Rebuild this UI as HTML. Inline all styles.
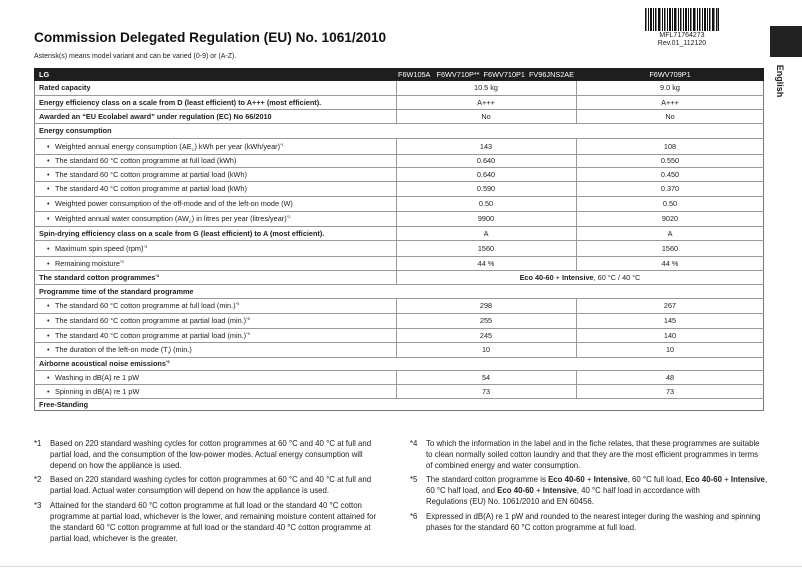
<!DOCTYPE html>
<html><head><meta charset="utf-8">
<style>
body{margin:0;width:802px;height:573px;background:#fff;position:relative;overflow:hidden;font-family:"Liberation Sans",sans-serif;color:#222}
.a{position:absolute;white-space:nowrap}
.r{position:absolute;left:34px;width:730px;border-bottom:1px solid #999;font-size:7.3px}
.r .l{position:absolute;left:5px;top:0}
.r .b{position:absolute;left:21px}
.r .b:before{content:"•";position:absolute;left:-8px}
.r .c1{position:absolute;left:362px;width:180px;text-align:center}
.r .c2{position:absolute;left:542px;width:188px;text-align:center}
.bold{font-weight:bold}
.fn{position:absolute;font-size:7.85px;line-height:11px;white-space:nowrap}
.fn span.n{position:absolute;left:-16px}
sup{font-size:4px;line-height:0;vertical-align:0;position:relative;top:-3px}
sub{font-size:4px;line-height:0;vertical-align:0;position:relative;top:2px}
.v{position:absolute;width:1px;background:#999}
</style></head><body>
<div class="a" style="left:34px;top:30px;font-size:13.7px;font-weight:bold;color:#111">Commission Delegated Regulation (EU) No. 1061/2010</div>
<div class="a" style="left:34px;top:53px;font-size:7px">Asterisk(s) means model variant and can be varied (0-9) or (A-Z).</div>
<svg class="a" style="left:645px;top:8px" width="74" height="23">
<g fill="#111">
<rect x="0" y="0" width="1.5" height="23"/><rect x="3" y="0" width="1" height="23"/><rect x="5" y="0" width="2" height="23"/><rect x="8" y="0" width="1" height="23"/><rect x="10" y="0" width="1.5" height="23"/><rect x="13" y="0" width="2.5" height="23"/><rect x="17" y="0" width="1" height="23"/><rect x="19" y="0" width="1.5" height="23"/><rect x="22" y="0" width="1" height="23"/><rect x="24" y="0" width="2" height="23"/><rect x="27" y="0" width="1" height="23"/><rect x="29" y="0" width="2.5" height="23"/><rect x="33" y="0" width="1" height="23"/><rect x="35" y="0" width="1.5" height="23"/><rect x="38" y="0" width="1" height="23"/><rect x="40" y="0" width="2" height="23"/><rect x="43" y="0" width="1" height="23"/><rect x="45" y="0" width="1.5" height="23"/><rect x="48" y="0" width="2.5" height="23"/><rect x="52" y="0" width="1" height="23"/><rect x="54" y="0" width="1.5" height="23"/><rect x="57" y="0" width="1" height="23"/><rect x="59" y="0" width="2" height="23"/><rect x="62" y="0" width="1" height="23"/><rect x="64" y="0" width="1.5" height="23"/><rect x="67" y="0" width="2.5" height="23"/><rect x="71" y="0" width="1" height="23"/><rect x="72.5" y="0" width="1.5" height="23"/>
</g></svg>
<div class="a" style="left:645px;top:32px;width:74px;text-align:center;font-size:7px;line-height:8px">MFL71764273<br>Rev.01_112120</div>
<div class="a" style="left:770px;top:26px;width:32px;height:31px;background:#222"></div>
<div class="a" style="left:773px;top:76px;font-size:9px;font-weight:bold;transform:rotate(90deg);transform-origin:center;width:40px;margin-left:-13px;text-align:center">English</div>

<div class="a" style="left:34px;top:68px;width:730px;height:343px;border:1px solid #777;box-sizing:border-box"></div>
<div class="v" style="left:396px;top:68px;height:56px"></div>
<div class="v" style="left:576px;top:68px;height:56px"></div>
<div class="v" style="left:396px;top:138px;height:146px"></div>
<div class="v" style="left:576px;top:138px;height:132px"></div>
<div class="v" style="left:396px;top:298px;height:59px"></div>
<div class="v" style="left:576px;top:298px;height:59px"></div>
<div class="v" style="left:396px;top:370px;height:28px"></div>
<div class="v" style="left:576px;top:370px;height:28px"></div>

<div class="r" style="top:68px;height:13px;line-height:13px;background:#1e1e1e;color:#fff;border:none"><span class="l bold">LG</span><span class="c1">F6W105A&nbsp;&nbsp; F6WV710P**&nbsp; F6WV710P1&nbsp; FV96JNS2AE</span><span class="c2">F6WV709P1</span></div>
<div class="r" style="top:81px;height:14px;line-height:14px"><span class="l bold">Rated capacity</span><span class="c1">10.5 kg</span><span class="c2">9.0 kg</span></div>
<div class="r" style="top:96px;height:13px;line-height:13px"><span class="l bold">Energy efficiency class on a scale from D (least efficient) to A+++ (most efficient).</span><span class="c1">A+++</span><span class="c2">A+++</span></div>
<div class="r" style="top:110px;height:13px;line-height:13px"><span class="l bold">Awarded an “EU Ecolabel award” under regulation (EC) No 66/2010</span><span class="c1">No</span><span class="c2">No</span></div>
<div class="r" style="top:124px;height:14px;line-height:14px"><span class="l bold">Energy consumption</span></div>
<div class="r" style="top:139px;height:15px;line-height:15px"><span class="b">Weighted annual energy consumption (AE<sub>C</sub>) kWh per year (kWh/year)<sup>*1</sup></span><span class="c1">143</span><span class="c2">108</span></div>
<div class="r" style="top:154px;height:13px;line-height:13px"><span class="b">The standard 60 °C cotton programme at full load (kWh)</span><span class="c1">0.640</span><span class="c2">0.550</span></div>
<div class="r" style="top:168px;height:13px;line-height:13px"><span class="b">The standard 60 °C cotton programme at partial load (kWh)</span><span class="c1">0.640</span><span class="c2">0.450</span></div>
<div class="r" style="top:182px;height:14px;line-height:14px"><span class="b">The standard 40 °C cotton programme at partial load (kWh)</span><span class="c1">0.590</span><span class="c2">0.370</span></div>
<div class="r" style="top:197px;height:14px;line-height:14px"><span class="b">Weighted power consumption of the off-mode and of the left-on mode (W)</span><span class="c1">0.50</span><span class="c2">0.50</span></div>
<div class="r" style="top:212px;height:14px;line-height:14px"><span class="b">Weighted annual water consumption (AW<sub>C</sub>) in litres per year (litres/year)<sup>*2</sup></span><span class="c1">9900</span><span class="c2">9020</span></div>
<div class="r" style="top:227px;height:13px;line-height:13px"><span class="l bold">Spin-drying efficiency class on a scale from G (least efficient) to A (most efficient).</span><span class="c1">A</span><span class="c2">A</span></div>
<div class="r" style="top:241px;height:15px;line-height:15px"><span class="b">Maximum spin speed (rpm)<sup>*3</sup></span><span class="c1">1560</span><span class="c2">1560</span></div>
<div class="r" style="top:257px;height:13px;line-height:13px"><span class="b">Remaining moisture<sup>*3</sup></span><span class="c1">44 %</span><span class="c2">44 %</span></div>
<div class="r" style="top:271px;height:13px;line-height:13px"><span class="l bold">The standard cotton programmes<sup>*4</sup></span><span class="c1" style="width:368px"><b>Eco 40-60</b> + <b>Intensive</b>, 60 °C / 40 °C</span></div>
<div class="r" style="top:285px;height:13px;line-height:13px"><span class="l bold">Programme time of the standard programme</span></div>
<div class="r" style="top:299px;height:14px;line-height:14px"><span class="b">The standard 60 °C cotton programme at full load (min.)<sup>*5</sup></span><span class="c1">298</span><span class="c2">267</span></div>
<div class="r" style="top:314px;height:14px;line-height:14px"><span class="b">The standard 60 °C cotton programme at partial load (min.)<sup>*5</sup></span><span class="c1">255</span><span class="c2">145</span></div>
<div class="r" style="top:329px;height:13px;line-height:13px"><span class="b">The standard 40 °C cotton programme at partial load (min.)<sup>*5</sup></span><span class="c1">245</span><span class="c2">140</span></div>
<div class="r" style="top:343px;height:14px;line-height:14px"><span class="b">The duration of the left-on mode (T<sub>l</sub>) (min.)</span><span class="c1">10</span><span class="c2">10</span></div>
<div class="r" style="top:358px;height:12px;line-height:12px"><span class="l bold">Airborne acoustical noise emissions<sup>*6</sup></span></div>
<div class="r" style="top:371px;height:13px;line-height:13px"><span class="b">Washing in dB(A) re 1 pW</span><span class="c1">54</span><span class="c2">48</span></div>
<div class="r" style="top:385px;height:13px;line-height:13px"><span class="b">Spinning in dB(A) re 1 pW</span><span class="c1">73</span><span class="c2">73</span></div>
<div class="r" style="top:399px;height:12px;line-height:12px;border:none"><span class="l bold">Free-Standing</span></div>

<div class="fn" style="left:50px;top:438px"><span class="n">*1</span>Based on 220 standard washing cycles for cotton programmes at 60 °C and 40 °C at full and<br>partial load, and the consumption of the low-power modes. Actual energy consumption will<br>depend on how the appliance is used.</div>
<div class="fn" style="left:50px;top:474px"><span class="n">*2</span>Based on 220 standard washing cycles for cotton programmes at 60 °C and 40 °C at full and<br>partial load. Actual water consumption will depend on how the appliance is used.</div>
<div class="fn" style="left:50px;top:500px"><span class="n">*3</span>Attained for the standard 60 °C cotton programme at full load or the standard 40 °C cotton<br>programme at partial load, whichever is the lower, and remaining moisture content attained for<br>the standard 60 °C cotton programme at full load or the standard 40 °C cotton programme at<br>partial load, whichever is the greater.</div>
<div class="fn" style="left:426px;top:438px"><span class="n">*4</span>To which the information in the label and in the fiche relates, that these programmes are suitable<br>to clean normally soiled cotton laundry and that they are the most efficient programmes in terms<br>of combined energy and water consumption.</div>
<div class="fn" style="left:426px;top:474px"><span class="n">*5</span>The standard cotton programme is <b>Eco 40-60</b> + <b>Intensive</b>, 60 °C full load, <b>Eco 40-60</b> + <b>Intensive</b>,<br>60 °C half load, and <b>Eco 40-60</b> + <b>Intensive</b>, 40 °C half load in accordance with<br>Regulations (EU) No. 1061/2010 and EN 60456.</div>
<div class="fn" style="left:426px;top:511px"><span class="n">*6</span>Expressed in dB(A) re 1 pW and rounded to the nearest integer during the washing and spinning<br>phases for the standard 60 °C cotton programme at full load.</div>
<div class="a" style="left:0;top:566px;width:802px;height:1px;background:#ddd"></div>
</body></html>
